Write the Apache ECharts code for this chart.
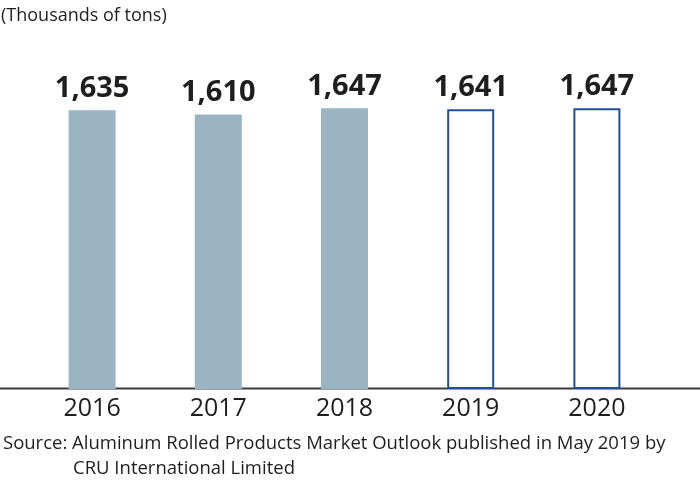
<!DOCTYPE html>
<html><head><meta charset="utf-8">
<script src="https://cdn.jsdelivr.net/npm/echarts@6/dist/echarts.min.js"></script>
<style>html,body{margin:0;padding:0;background:#fff}#c{width:700px;height:487px}</style>
</head><body><div id="c"></div>
<script>
const categories = ['2016', '2017', '2018', '2019', '2020'];
const values = [1635, 1610, 1647, 1641, 1647];
const forecast = [false, false, false, true, true];
const unitLabel = '(Thousands of tons)';
const sourceLine1 = 'Source: Aluminum Rolled Products Market Outlook published in May 2019 by';
const sourceLine2 = 'CRU International Limited';

const FONT = '"Open Sans", "Noto Sans", sans-serif';
const chart = echarts.init(document.getElementById('c'), null, {renderer: 'canvas'});
chart.setOption({
  animation: false,
  backgroundColor: '#fff',
  grid: {left: 29, right: 40, top: 48, bottom: 98, containLabel: false},
  xAxis: {
    type: 'category', data: categories,
    axisLine: {show: false}, axisTick: {show: false},
    axisLabel: {color: '#1e1e1e', fontSize: 25, fontFamily: FONT, margin: 7}
  },
  yAxis: {type: 'value', min: 0, max: 2000, show: false, splitLine: {show: false}},
  series: [{
    type: 'bar', barWidth: 47,
    data: values.map((v, i) => ({
      value: v,
      itemStyle: forecast[i]
        ? {color: '#ffffff', borderColor: '#1d4f9a', borderWidth: 2}
        : {color: '#9ab5c1'}
    })),
    label: {
      show: true, position: 'top', distance: 7,
      color: '#1e1e1e', fontSize: 29, fontWeight: 'bold', fontFamily: FONT,
      formatter: p => p.value.toLocaleString('en-US')
    }
  }],
  graphic: [
    {type: 'line', shape: {x1: 0, y1: 388.5, x2: 700, y2: 388.5}, style: {stroke: '#3c3c3c', lineWidth: 2}},
    {type: 'text', left: 1, top: 7, style: {text: unitLabel, fontSize: 18, fontFamily: FONT, fill: '#1e1e1e'}},
    {type: 'text', left: 3, top: 434, style: {text: sourceLine1, fontSize: 18.5, fontFamily: FONT, fill: '#1e1e1e'}},
    {type: 'text', left: 73, top: 459, style: {text: sourceLine2, fontSize: 18.5, fontFamily: FONT, fill: '#1e1e1e'}}
  ]
});
</script></body></html>
